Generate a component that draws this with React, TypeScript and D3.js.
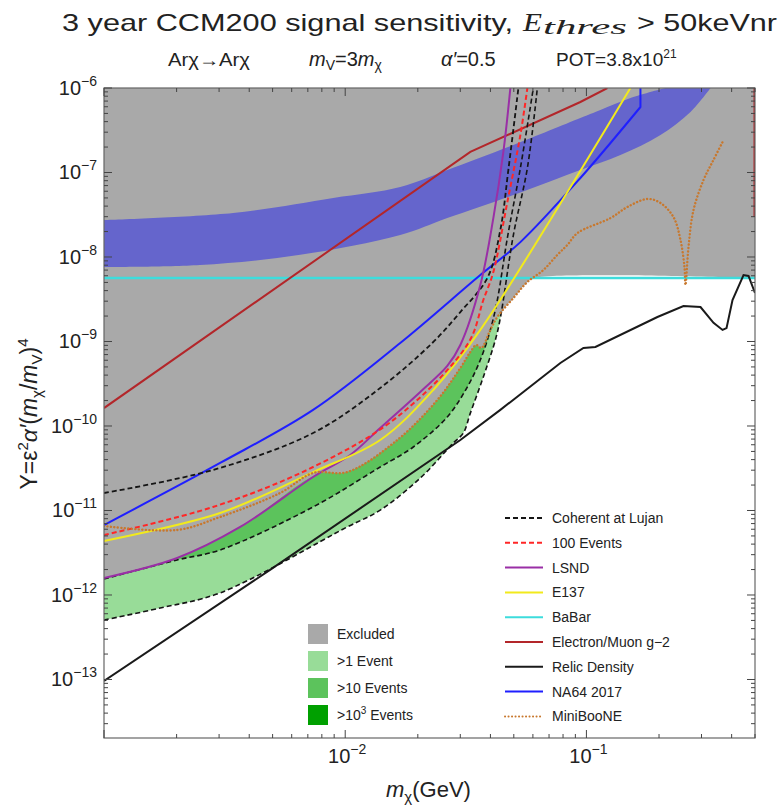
import React from "react";
import * as d3 from "d3";

type Pt = [number, number];

const SANS = '"Liberation Sans", Arial, Helvetica, sans-serif';
const SERIF = '"Liberation Serif", "DejaVu Serif", serif';

// ---------- axes ----------
const xDomain: [number, number] = [1e-3, 0.5];
const yDomain: [number, number] = [2.03e-14, 1e-6];
const xLabeledTicks = [1e-2, 1e-1];
const xTickExps = ["\u22122", "\u22121"];
const yLabeledTicks = [1e-6, 1e-7, 1e-8, 1e-9, 1e-10, 1e-11, 1e-12, 1e-13];
const yTickExps = ["\u22126", "\u22127", "\u22128", "\u22129", "\u221210", "\u221211", "\u221212", "\u221213"];

// ---------- data (m_chi [GeV], Y) ----------
const babar: Pt[] = [[1e-3, 5.64e-9], [0.5, 5.64e-9]];

const bandUpper: Pt[] = [
  [1e-3, 2.74e-8], [3.43e-3, 3.32e-8], [8.92e-3, 4.99e-8], [1.691e-2, 6.73e-8],
  [2.65e-2, 1.07e-7], [4.98e-2, 2.12e-7], [9.44e-2, 4.42e-7], [0.1143, 5.49e-7],
  [0.1522, 7.61e-7], [0.2127, 1e-6],
];
const bandLower: Pt[] = [
  [1e-3, 7.61e-9], [2.5e-3, 8.04e-9], [6.51e-3, 1.06e-8], [1.691e-2, 1.82e-8],
  [2.65e-2, 2.89e-8], [4.98e-2, 5.42e-8], [9.44e-2, 1.07e-7], [0.1384, 1.61e-7],
  [0.2028, 2.78e-7], [0.2701, 5.2e-7], [0.3271, 1e-6],
];

const na64: Pt[] = [
  [1e-3, 6.73e-12], [3.03e-3, 3.65e-11], [7.36e-3, 1.55e-10], [1.691e-2, 9.6e-10],
  [3.632e-2, 6.12e-9], [5.324e-2, 1.5e-8], [9.44e-2, 8.61e-8], [0.1675, 5.96e-7],
];
const na64Top: Pt[] = [[0.1675, 5.96e-7], [0.1675, 1e-6]];

const g2: Pt[] = [[1e-3, 1.63e-10], [3.302e-2, 1.75e-7], [9.44e-2, 6.83e-7], [0.1222, 1e-6]];
const g2Edge: Pt[] = [[0.5, 1e-6], [0.5, 2.97e-8]];

const lsnd: Pt[] = [
  [1e-3, 1.59e-12], [2.01e-3, 2.74e-12], [3.67e-3, 6.38e-12], [7.36e-3, 2.49e-11],
  [1.049e-2, 4.54e-11], [1.397e-2, 9.47e-11], [2.047e-2, 2.53e-10], [2.65e-2, 5.13e-10],
  [3.001e-2, 9.09e-10], [3.632e-2, 4.66e-9], [4.113e-2, 2.89e-8], [4.526e-2, 1.75e-7],
  [4.839e-2, 1e-6],
];

const e137: Pt[] = [
  [1e-3, 4.36e-12], [3.03e-3, 9.34e-12], [7.36e-3, 2.85e-11], [1.397e-2, 6.83e-11],
  [2.318e-2, 2.67e-10], [3.632e-2, 1.37e-9], [0.1522, 1e-6],
];

const events100: Pt[] = [
  [1e-3, 5.13e-12], [2.83e-3, 1.1e-11], [7.36e-3, 3.27e-11], [1.644e-2, 1.28e-10],
  [3.239e-2, 9.6e-10], [3.738e-2, 3.1e-9], [4.113e-2, 6.65e-9], [4.702e-2, 4.48e-8],
  [5.324e-2, 2.78e-7], [5.692e-2, 1e-6],
];

const cohLujan: Pt[] = [
  [1e-3, 1.61e-11], [2.83e-3, 3.02e-11], [7.36e-3, 8.26e-11], [1.397e-2, 2.82e-10],
  [2.296e-2, 9.6e-10], [3.001e-2, 2.23e-9], [3.884e-2, 5.64e-9], [4.397e-2, 2.09e-8],
  [4.746e-2, 1.07e-7], [5.224e-2, 1e-6],
];

const oneEvent: Pt[] = [
  [1e-3, 5.06e-13], [1.71e-3, 7.02e-13], [3.03e-3, 1.06e-12], [1.019e-2, 6.38e-12],
  [1.397e-2, 1.01e-11], [2.047e-2, 2.42e-11], [2.806e-2, 6.29e-11], [3.088e-2, 8.26e-11],
  [3.302e-2, 1.42e-10], [3.738e-2, 3.8e-10], [4.192e-2, 1.04e-9], [4.397e-2, 1.9e-9],
  [4.98e-2, 1.82e-8], [5.692e-2, 1.13e-7], [6.26e-2, 1e-6],
];

const tenEvents: Pt[] = [
  [1e-3, 1.55e-12], [2.01e-3, 2.6e-12], [3.03e-3, 3.41e-12], [7.36e-3, 1.1e-11],
  [1.397e-2, 3.27e-11], [1.915e-2, 5.64e-11], [2.65e-2, 1.28e-10], [3.208e-2, 2.89e-10],
  [3.632e-2, 6.04e-10], [3.997e-2, 1.37e-9], [4.273e-2, 3.1e-9], [4.702e-2, 1.68e-8],
  [5.324e-2, 1.13e-7], [6.025e-2, 1e-6],
];

const miniboone: Pt[] = [
  [1e-3, 6.55e-12], [2.01e-3, 5.88e-12], [3.03e-3, 8.38e-12], [5.37e-3, 1.61e-11],
  [7.36e-3, 2.78e-11], [1.019e-2, 2.85e-11], [1.644e-2, 6.83e-11], [2.408e-2, 2.03e-10],
  [3.001e-2, 4.86e-10], [3.302e-2, 7.51e-10], [3.496e-2, 9.09e-10], [3.667e-2, 8.38e-10],
  [3.997e-2, 1.37e-9], [4.273e-2, 1.95e-9], [4.98e-2, 3.27e-9], [5.692e-2, 5.06e-9],
  [6.63e-2, 7.02e-9], [7.58e-2, 1.06e-8], [8.34e-2, 1.39e-8], [9.18e-2, 1.92e-8],
  [0.1258, 2.89e-8], [0.148, 3.91e-8], [0.1791, 4.86e-8], [0.2028, 4.36e-8],
  [0.2296, 2.97e-8], [0.2455, 1.59e-8], [0.255, 7.61e-9], [0.2575, 4.66e-9],
  [0.265, 1.31e-8], [0.278, 3.6e-8], [0.3059, 8.15e-8], [0.3365, 1.41e-7],
  [0.3703, 2.42e-7],
];

const relic: Pt[] = [
  [1e-3, 9.6e-14], [4.88e-3, 1.98e-12], [3.001e-2, 6.83e-11], [4.397e-2, 1.55e-10],
  [7.8e-2, 5.57e-10], [9.72e-2, 8.38e-10], [0.109, 8.61e-10], [0.197, 1.95e-9],
  [0.2526, 2.63e-9], [0.2972, 2.56e-9], [0.3365, 1.66e-9], [0.3668, 1.37e-9],
  [0.381, 1.44e-9], [0.4034, 3.1e-9], [0.4481, 6.12e-9], [0.47, 5.96e-9],
  [0.5, 3.75e-9],
];

const excludedEdge: Pt[] = [
  [1e-3, 1.59e-12], [2.01e-3, 2.74e-12], [3.67e-3, 6.38e-12], [7.73e-3, 2.7e-11],
  [1.019e-2, 2.85e-11], [1.644e-2, 6.83e-11], [2.408e-2, 2.03e-10], [3.001e-2, 4.86e-10],
  [3.302e-2, 7.51e-10], [3.496e-2, 9.09e-10], [3.667e-2, 8.38e-10], [3.997e-2, 1.37e-9],
  [4.273e-2, 1.95e-9], [4.98e-2, 3.27e-9], [5.692e-2, 5.06e-9], [6.025e-2, 5.64e-9],
  [0.5, 5.64e-9],
];

// ---------- legends ----------
const legendLabels = [
  "Coherent at Lujan", "100 Events", "LSND", "E137", "BaBar",
  "Electron/Muon g\u22122", "Relic Density", "NA64 2017", "MiniBooNE",
];
const legendColors = ["#151515", "#ff2626", "#9a2fa6", "#f2ea1c", "#3ddcdc", "#b3262a", "#1a1a1a", "#1f1fff", "#c8782e"];
const legendDash = ["5,3", "5,3", "", "", "", "", "", "", "0.1,3.4"];

const regionLabels = ["Excluded", ">1 Event", ">10 Events", ">10"];
const regionColors = ["#a9a9a9", "#98dc98", "#5cc35c", "#00a000"];

const PLOT = { left: 104, right: 755, top: 88, bottom: 738 };

function logTicks(lo: number, hi: number) {
  const out: { v: number; major: boolean }[] = [];
  for (let e = Math.floor(Math.log10(lo)); e <= Math.ceil(Math.log10(hi)); e++) {
    for (let k = 1; k < 10; k++) {
      const v = k * Math.pow(10, e);
      if (v >= lo * 0.999 && v <= hi * 1.001) out.push({ v, major: k === 1 });
    }
  }
  return out;
}

export default function App() {
  const x = d3.scaleLog().domain(xDomain).range([PLOT.left, PLOT.right]);
  const y = d3.scaleLog().domain(yDomain).range([PLOT.bottom, PLOT.top]);
  const lin = d3.line<Pt>().x((d) => x(d[0])).y((d) => y(d[1]));
  const smooth = d3
    .line<Pt>()
    .x((d) => x(d[0]))
    .y((d) => y(d[1]))
    .curve(d3.curveCatmullRom.alpha(0.5));

  const yTop = y(yDomain[1]);
  const xL = x(xDomain[0]);
  const xR = x(xDomain[1]);

  const fillAbove = (pts: Pt[]) => `${smooth(pts)}L${xL},${yTop}Z`;
  const excludedPath = `${smooth(excludedEdge)}L${xR},${yTop}L${xL},${yTop}Z`;
  const bandPath =
    `${smooth(bandUpper)}L${x(bandLower[bandLower.length - 1][0])},${yTop}` +
    `${(smooth([...bandLower].reverse()) || "").replace(/^M/, "L")}Z`;
  const na64Path = `${smooth(na64)}${(lin(na64Top) || "").replace(/^M/, "L")}`;

  const xt = logTicks(xDomain[0], xDomain[1]);
  const yt = logTicks(yDomain[0], yDomain[1]);
  const tickColor = "#444";

  const lineStyle = (i: number, w = 2) => ({
    fill: "none",
    stroke: legendColors[i],
    strokeWidth: w,
    strokeDasharray: legendDash[i] || undefined,
    strokeLinecap: (legendDash[i] === "0.1,3.4" ? "round" : "butt") as any,
  });

  return (
    <svg
      width={779}
      height={805}
      style={{ position: "absolute", left: 0, top: 0, background: "#fff" }}
      fontFamily={SANS}
    >
      <defs>
        <clipPath id="plotClip">
          <rect x={PLOT.left} y={PLOT.top} width={PLOT.right - PLOT.left} height={PLOT.bottom - PLOT.top} />
        </clipPath>
      </defs>

      {/* title */}
      <text x={62} y={31} fontSize={24} fill="#222" textLength={451} lengthAdjust="spacingAndGlyphs">
        3 year CCM200 signal sensitivity,
      </text>
      <text x={523} y={31} fontSize={25} fontFamily={SERIF} fontStyle="italic" fill="#222" textLength={19} lengthAdjust="spacingAndGlyphs">
        E
      </text>
      <text x={543} y={34} fontSize={20} fontFamily={SERIF} fontStyle="italic" fill="#222" textLength={84} lengthAdjust="spacingAndGlyphs">
        thres
      </text>
      <text x={637} y={31} fontSize={24} fill="#222" textLength={140} lengthAdjust="spacingAndGlyphs">
        {"> 50keVnr"}
      </text>

      {/* subtitle */}
      <text x={168} y={66} fontSize={18} fill="#222" textLength={82} lengthAdjust="spacingAndGlyphs">
        {"Ar\u03c7\u2192Ar\u03c7"}
      </text>
      <text x={309} y={66} fontSize={20} fill="#222">
        <tspan fontStyle="italic">m</tspan>
        <tspan fontSize={14} dy={4}>V</tspan>
        <tspan dy={-4}>=3</tspan>
        <tspan fontStyle="italic">m</tspan>
        <tspan fontSize={14} dy={4}>{"\u03c7"}</tspan>
      </text>
      <text x={441} y={66} fontSize={20} fill="#222">
        <tspan fontStyle="italic">{"\u03b1\u2032"}</tspan>
        <tspan>=0.5</tspan>
      </text>
      <text x={556} y={66} fontSize={19} fill="#222">
        <tspan>POT=3.8x10</tspan>
        <tspan fontSize={12} dy={-8}>21</tspan>
      </text>

      {/* plot contents */}
      <g clipPath="url(#plotClip)">
        <rect x={PLOT.left} y={PLOT.top} width={PLOT.right - PLOT.left} height={PLOT.bottom - PLOT.top} fill="#fff" />
        <path d={fillAbove(oneEvent)} fill={regionColors[1]} />
        <path d={fillAbove(tenEvents)} fill={regionColors[2]} />
        <path d={excludedPath} fill={regionColors[0]} />
        <path d={bandPath} fill="#6565cc" />

        <path d={lin(babar) || ""} {...lineStyle(4, 2.5)} />
        <path d={lin(relic) || ""} {...lineStyle(6, 2)} />
        <path d={lin(g2) || ""} {...lineStyle(5, 2)} />
        <path d={lin(g2Edge) || ""} {...lineStyle(5, 3)} />
        <path d={na64Path} {...lineStyle(7, 2)} />
        <path d={smooth(oneEvent) || ""} {...lineStyle(0, 1.6)} />
        <path d={smooth(tenEvents) || ""} {...lineStyle(0, 1.6)} />
        <path d={smooth(cohLujan) || ""} {...lineStyle(0, 1.8)} />
        <path d={smooth(lsnd) || ""} {...lineStyle(2, 2)} />
        <path d={smooth(e137) || ""} {...lineStyle(3, 2)} />
        <path d={smooth(events100) || ""} {...lineStyle(1, 2)} />
        <path d={smooth(miniboone) || ""} {...lineStyle(8, 2.4)} />
      </g>

      {/* frame */}
      <rect
        x={PLOT.left}
        y={PLOT.top}
        width={PLOT.right - PLOT.left}
        height={PLOT.bottom - PLOT.top}
        fill="none"
        stroke="#666"
        strokeWidth={1.2}
      />

      {/* ticks */}
      {xt.map((t, i) => {
        const px = x(t.v);
        const len = t.major ? 8 : 4;
        return (
          <g key={"xt" + i} stroke={tickColor} strokeWidth={1}>
            <line x1={px} x2={px} y1={PLOT.bottom} y2={PLOT.bottom - len} />
            <line x1={px} x2={px} y1={PLOT.top} y2={PLOT.top + len} />
          </g>
        );
      })}
      {yt.map((t, i) => {
        const py = y(t.v);
        const len = t.major ? 8 : 4;
        return (
          <g key={"yt" + i} stroke={tickColor} strokeWidth={1}>
            <line x1={PLOT.left} x2={PLOT.left + len} y1={py} y2={py} />
            <line x1={PLOT.right} x2={PLOT.right - len} y1={py} y2={py} />
          </g>
        );
      })}

      {/* tick labels */}
      {yLabeledTicks.map((v, i) => (
        <text key={"yl" + i} x={97} y={y(v) + 7} textAnchor="end" fontSize={20} fill="#222">
          <tspan>10</tspan>
          <tspan fontSize={14} dy={-9}>{yTickExps[i]}</tspan>
        </text>
      ))}
      {xLabeledTicks.map((v, i) => (
        <text key={"xl" + i} x={x(v) + 2} y={763} textAnchor="middle" fontSize={20} fill="#222">
          <tspan>10</tspan>
          <tspan fontSize={14} dy={-9}>{xTickExps[i]}</tspan>
        </text>
      ))}

      {/* axis labels */}
      <text x={386} y={797} fontSize={22} fill="#222">
        <tspan fontStyle="italic">m</tspan>
        <tspan fontSize={15} dy={5}>{"\u03c7"}</tspan>
        <tspan dy={-5}>(GeV)</tspan>
      </text>
      <text transform="translate(37,414) rotate(-90)" textAnchor="middle" fontSize={23} fill="#222">
        <tspan>Y=</tspan>
        <tspan>{"\u03b5"}</tspan>
        <tspan fontSize={15} dy={-9}>2</tspan>
        <tspan dy={9} fontStyle="italic">{"\u03b1\u2032"}</tspan>
        <tspan>(</tspan>
        <tspan fontStyle="italic">m</tspan>
        <tspan fontSize={15} dy={5}>{"\u03c7"}</tspan>
        <tspan dy={-5}>/</tspan>
        <tspan fontStyle="italic">m</tspan>
        <tspan fontSize={15} dy={5}>V</tspan>
        <tspan dy={-5}>)</tspan>
        <tspan fontSize={15} dy={-9}>4</tspan>
      </text>

      {/* line legend */}
      {legendLabels.map((lab, i) => {
        const cy = 518 + i * 24.8;
        return (
          <g key={"lg" + i}>
            <line x1={505} x2={543} y1={cy} y2={cy} {...lineStyle(i, 2)} />
            <text x={552} y={cy + 5} fontSize={14} fill="#222">
              {lab}
            </text>
          </g>
        );
      })}

      {/* region legend */}
      {regionLabels.map((lab, i) => {
        const cy = 634 + i * 27;
        return (
          <g key={"rg" + i}>
            <rect x={308} y={cy - 10} width={20} height={20} fill={regionColors[i]} />
            <text x={337} y={cy + 5} fontSize={14} fill="#222">
              <tspan>{lab}</tspan>
              {i === 3 ? (
                <>
                  <tspan fontSize={10} dy={-6}>3</tspan>
                  <tspan dy={6}> Events</tspan>
                </>
              ) : null}
            </text>
          </g>
        );
      })}
    </svg>
  );
}
